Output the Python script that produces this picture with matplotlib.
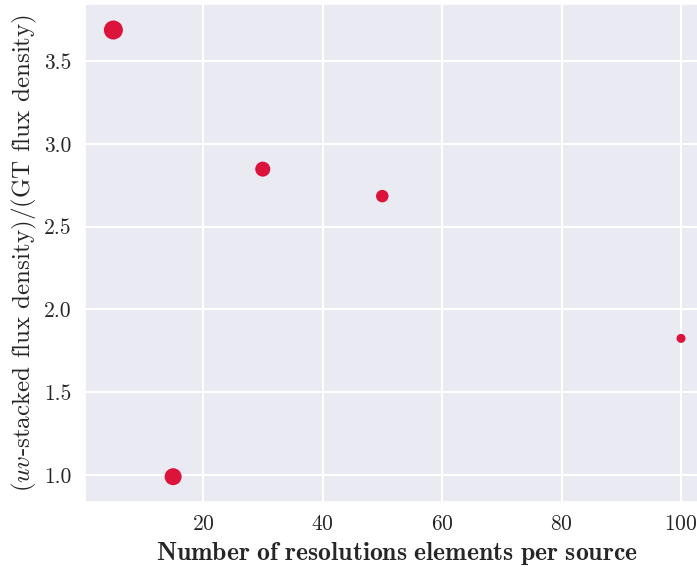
import matplotlib
matplotlib.use("Agg")
import matplotlib.pyplot as plt
import seaborn as sns

# Resolution elements per source vs. flux density ratio
n_elements = [5, 15, 30, 50, 100]
flux_ratio = [3.687, 0.99, 2.847, 2.684, 1.825]
marker_area = [188, 150, 117, 81, 42]

sns.set_theme(style="darkgrid")
plt.rcParams["font.family"] = "serif"
plt.rcParams["font.serif"] = ["cmr10"]
plt.rcParams["mathtext.fontset"] = "cm"
plt.rcParams["axes.formatter.use_mathtext"] = True
plt.rcParams["axes.unicode_minus"] = False
plt.rcParams["grid.linewidth"] = 1.5

W, H = 697, 567
fig = plt.figure(figsize=(W / 100, H / 100), dpi=100)
# the plotting area runs slightly past the right edge of the canvas
left_px, right_px, top_px, bottom_px = 85, 709.4, 4, 501.7
ax = fig.add_axes([left_px / W, 1 - bottom_px / H,
                   (right_px - left_px) / W, (bottom_px - top_px) / H])

ax.scatter(n_elements, flux_ratio, s=marker_area, color="crimson", linewidths=0)

ax.set_xlim(0.25, 104.75)
ax.set_ylim(0.839, 3.844)
ax.set_xticks([20, 40, 60, 80, 100])
ax.set_yticks([1.0, 1.5, 2.0, 2.5, 3.0, 3.5])
ax.set_yticklabels(["1.0", "1.5", "2.0", "2.5", "3.0", "3.5"])
ax.tick_params(labelsize=15.5)

ax.set_xlabel(r"$\mathbf{Number\ of\ resolutions\ elements\ per\ source}$", fontsize=18.5)
ax.set_ylabel(r"($uv$-stacked flux density)/(GT flux density)", fontsize=18)

fig.savefig("out.png", dpi=100)
